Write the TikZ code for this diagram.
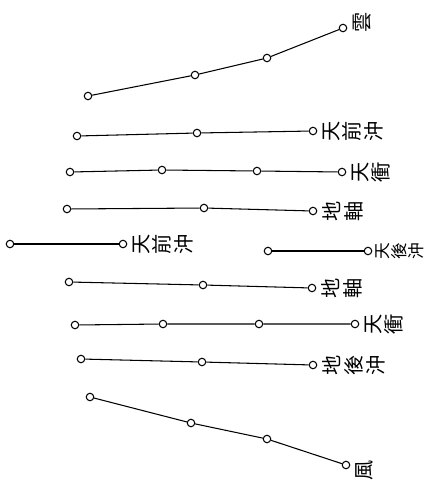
\documentclass[tikz,border=0pt]{standalone}
\usepackage{fontspec}
\newfontfamily\cjk{Noto Sans CJK TC}
\begin{document}
\begin{tikzpicture}[x=0.02cm,y=-0.02cm,
    ring/.style={circle,draw,fill=white,inner sep=0pt,minimum size=1.5mm,line width=0.6pt},
    wire/.style={line width=0.6pt},
    lab/.style={rotate=90,anchor=north,align=center,inner sep=1pt,font=\cjk\fontsize{11.5}{12.3}\selectfont}]
    \useasboundingbox (0,0) rectangle (424,491);
    % cloud wing (top)
    \node[ring] (a1) at (88,96) {};
    \node[ring] (a2) at (195,75) {};
    \node[ring] (a3) at (267,58) {};
    \node[ring] (a4) at (343,28) {};
    \draw[wire] (a1) -- (a2) -- (a3) -- (a4);
    \node[lab] (la) at ([xshift=2pt,yshift=3pt]a4.east) {雲};
    % upper rows
    \node[ring] (b1) at (77,136) {};
    \node[ring] (b2) at (197,133) {};
    \node[ring] (b3) at (313,131) {};
    \draw[wire] (b1) -- (b2) -- (b3);
    \node[lab] (lb) at ([xshift=2pt]b3.east) {天\\前\\沖};
    \node[ring] (c1) at (70,172) {};
    \node[ring] (c2) at (162,170) {};
    \node[ring] (c3) at (257,171) {};
    \node[ring] (c4) at (342,172) {};
    \draw[wire] (c1) -- (c2) -- (c3) -- (c4);
    \node[lab] (lc) at ([xshift=2pt]c4.east) {天\\衝};
    \node[ring] (d1) at (67,209) {};
    \node[ring] (d2) at (204,208) {};
    \node[ring] (d3) at (313,211) {};
    \draw[wire] (d1) -- (d2) -- (d3);
    \node[lab] (ld) at ([xshift=2pt]d3.east) {地\\軸};
    % middle row
    \node[ring] (e1) at (10,244) {};
    \node[ring] (e2) at (123,244) {};
    \draw[wire] (e1) -- (e2);
    \node[lab] (le) at ([xshift=2pt]e2.east) {天\\前\\沖};
    \node[ring] (f1) at (268,251) {};
    \node[ring] (f2) at (368,251) {};
    \draw[wire] (f1) -- (f2);
    \node[lab,font=\cjk\fontsize{9.5}{9.6}\selectfont] (lf) at ([xshift=1pt]f2.east) {天\\後\\沖};
    % lower rows
    \node[ring] (g1) at (69,282) {};
    \node[ring] (g2) at (203,285) {};
    \node[ring] (g3) at (312,288) {};
    \draw[wire] (g1) -- (g2) -- (g3);
    \node[lab] (lg) at ([xshift=2pt]g3.east) {地\\軸};
    \node[ring] (h1) at (75,325) {};
    \node[ring] (h2) at (163,324) {};
    \node[ring] (h3) at (259,324) {};
    \node[ring] (h4) at (355,324) {};
    \draw[wire] (h1) -- (h2) -- (h3) -- (h4);
    \node[lab] (lh) at ([xshift=2pt]h4.east) {天\\衝};
    \node[ring] (i1) at (81,359) {};
    \node[ring] (i2) at (202,362) {};
    \node[ring] (i3) at (313,365) {};
    \draw[wire] (i1) -- (i2) -- (i3);
    \node[lab] (li) at ([xshift=2pt]i3.east) {地\\後\\沖};
    % wind wing (bottom)
    \node[ring] (j1) at (90,397) {};
    \node[ring] (j2) at (191,423) {};
    \node[ring] (j3) at (267,439) {};
    \node[ring] (j4) at (346,465) {};
    \draw[wire] (j1) -- (j2) -- (j3) -- (j4);
    \node[lab] (lj) at ([xshift=2pt,yshift=-3pt]j4.east) {風};
\end{tikzpicture}
\end{document}
